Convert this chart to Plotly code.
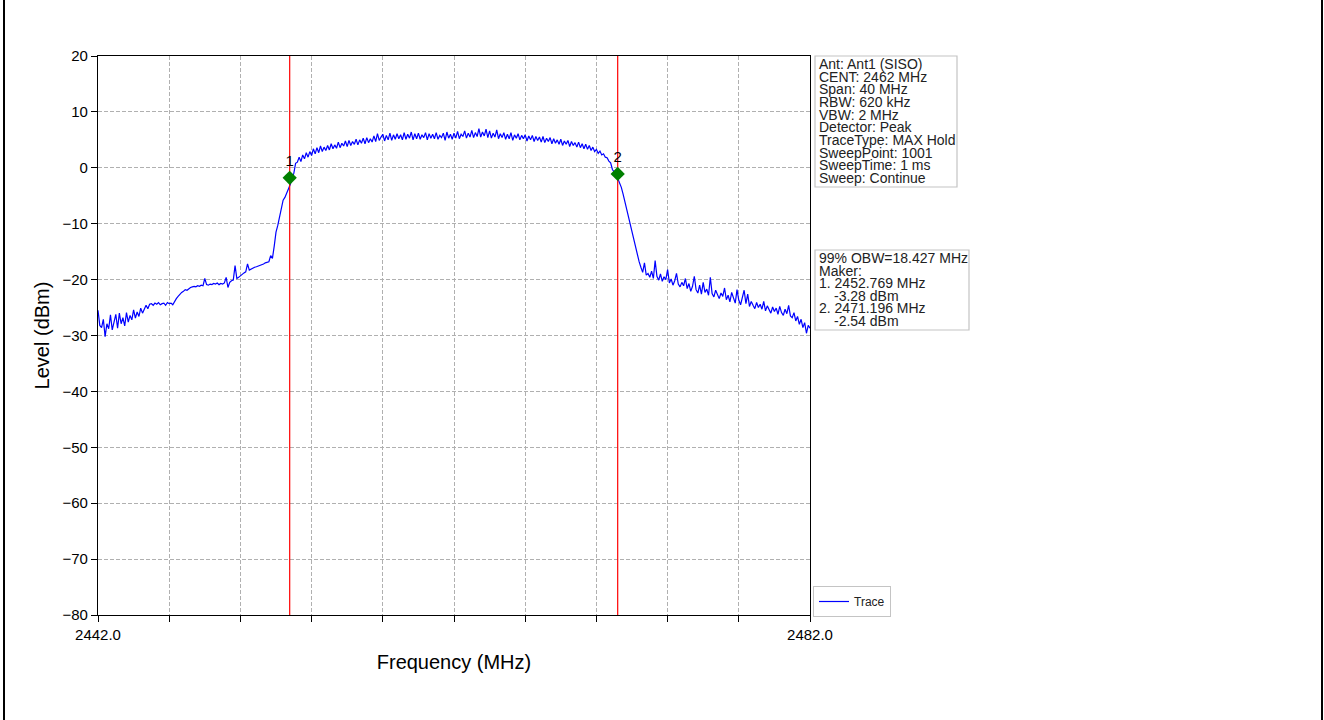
import plotly.graph_objects as go

# Spectrum trace, 0.1 MHz steps from 2442.0 to 2482.0 MHz
FREQ_START = 2442.0
FREQ_STEP = 0.1
level_dbm = [
    -25.5, -28.2, -28.6, -27.1, -30.2, -27.9, -28.8, -26.3, -29.0, -27.4,  # 2442
    -26.2, -28.7, -26.0, -27.9, -26.8, -28.3, -25.9, -27.6, -26.4, -27.2,  # 2443
    -25.4, -26.9, -25.8, -26.6, -25.1, -26.0, -25.3, -24.6, -25.2, -24.4,  # 2444
    -24.3, -24.6, -24.2, -24.4, -24.1, -24.5, -24.3, -24.2, -24.6, -24.1,  # 2445
    -24.3, -24.2, -24.5, -23.9, -23.4, -23.0, -22.6, -22.3, -22.1, -21.8,  # 2446
    -21.9, -21.6, -21.4, -21.3, -21.2, -21.3, -21.1, -21.2, -21.0, -21.1,  # 2447
    -19.8, -20.9, -21.0, -20.8, -20.9, -20.7, -20.8, -20.6, -20.9, -20.7,  # 2448
    -20.8, -20.6, -19.6, -21.4, -20.5, -20.2, -20.1, -17.5, -19.8, -19.6,  # 2449
    -19.3, -19.0, -18.8, -18.6, -17.2, -18.3, -18.1, -18.0, -17.8, -17.7,  # 2450
    -17.6, -17.5, -17.3, -17.2, -17.0, -16.9, -16.8, -15.7, -16.2, -14.0,  # 2451
    -11.5, -10.3, -8.8, -7.0, -5.8, -5.3, -4.6, -3.6, -3.0, -1.8,  # 2452
    -1.0, 0.8, 1.0, 1.9, 1.1, 2.3, 1.6, 2.7, 1.9, 2.9,  # 2453
    2.2, 3.4, 2.5, 3.6, 2.7, 3.9, 2.9, 3.7, 3.1, 4.0,  # 2454
    3.2, 4.3, 3.4, 4.1, 3.5, 4.6, 3.6, 4.4, 3.9, 4.8,  # 2455
    3.8, 4.9, 4.0, 4.7, 4.2, 5.1, 4.1, 5.0, 4.4, 5.3,  # 2456
    4.3, 5.4, 4.5, 5.2, 4.6, 5.7, 4.7, 6.1, 4.9, 5.5,  # 2457
    6.0, 4.8, 5.8, 5.0, 6.2, 4.9, 5.9, 5.1, 6.1, 5.2,  # 2458
    5.9, 5.0, 6.3, 5.1, 6.0, 5.3, 6.4, 5.0, 6.1, 5.2,  # 2459
    6.2, 5.1, 5.9, 5.4, 6.3, 5.0, 6.1, 5.3, 6.0, 5.2,  # 2460
    6.3, 5.1, 5.8, 5.4, 6.2, 4.9, 6.4, 5.3, 6.0, 5.1,  # 2461
    6.2, 5.3, 6.5, 5.2, 6.0, 5.6, 6.6, 5.3, 6.2, 5.5,  # 2462
    6.7, 5.4, 6.3, 5.6, 7.0, 5.5, 6.4, 5.7, 6.9, 5.4,  # 2463
    6.6, 5.3, 6.2, 5.5, 6.8, 5.2, 6.1, 5.4, 6.3, 5.1,  # 2464
    6.0, 5.2, 6.3, 4.9, 5.9, 5.3, 6.1, 5.0, 5.8, 5.2,  # 2465
    5.9, 4.8, 5.7, 5.0, 5.8, 4.7, 5.6, 4.9, 5.5, 4.6,  # 2466
    5.6, 4.5, 5.3, 4.7, 5.4, 4.3, 5.2, 4.4, 5.0, 4.2,  # 2467
    5.1, 4.0, 4.8, 4.2, 4.9, 3.8, 4.7, 4.0, 4.5, 3.7,  # 2468
    4.6, 3.6, 4.3, 3.4, 4.2, 3.3, 4.0, 3.1, 3.7, 2.9,  # 2469
    3.3, 2.6, 3.0, 2.3, 2.5, 1.9, 1.8, 1.2, 0.9, -0.3,  # 2470
    -0.7, -1.2, -1.9, -2.6, -3.5, -4.7, -6.1, -7.6, -8.7, -9.8,  # 2471
    -11.3, -12.6, -14.1, -15.4, -16.8, -17.8, -18.7, -17.0, -19.2, -18.9,  # 2472
    -19.6, -18.5, -19.8, -16.6, -19.4, -20.1, -19.0, -20.3, -19.5, -20.0,  # 2473
    -18.2, -20.6, -19.9, -21.0, -20.2, -18.9, -20.8, -21.3, -20.5, -21.1,  # 2474
    -19.8, -21.6, -20.7, -22.1, -21.2, -19.4, -21.8, -22.4, -21.0, -22.6,  # 2475
    -20.5, -22.3, -21.7, -22.8, -19.6, -22.5, -23.1, -21.9, -22.7, -23.4,  # 2476
    -22.4, -23.0, -21.5, -23.6, -22.8, -24.0, -22.3, -23.5, -24.2, -21.8,  # 2477
    -23.7, -24.5, -23.1, -21.9, -24.3, -22.6, -24.8, -23.9, -24.6, -25.2,  # 2478
    -24.1, -25.0, -24.4, -25.3, -23.9, -25.6, -24.7, -25.4, -26.0, -24.9,  # 2479
    -25.7, -25.1, -26.2, -24.8, -25.9, -26.4, -25.3, -26.1, -24.6, -26.5,  # 2480
    -26.8, -25.9, -27.4, -26.6, -28.0, -27.1, -28.6, -27.7, -29.6, -28.2,  # 2481
    -28.7,  # 2482
]
freq_mhz = [round(FREQ_START + i * FREQ_STEP, 1) for i in range(len(level_dbm))]

# OBW markers
marker_freq = [2452.769, 2471.196]
marker_level = [-1.8, -1.1]
marker_names = ['1', '2']

# Axis ticks
x_tick_values = [2442, 2446, 2450, 2454, 2458, 2462, 2466, 2470, 2474, 2478, 2482]
x_tick_labels = ['2442.0', '', '', '', '', '', '', '', '', '', '2482.0']
y_tick_values = [20, 10, 0, -10, -20, -30, -40, -50, -60, -70, -80]

settings_lines = [
    'Ant: Ant1 (SISO)', 'CENT: 2462 MHz', 'Span: 40 MHz', 'RBW: 620 kHz',
    'VBW: 2 MHz', 'Detector: Peak', 'TraceType: MAX Hold', 'SweepPoint: 1001',
    'SweepTime: 1 ms', 'Sweep: Continue',
]
result_lines = [
    ('99% OBW=18.427 MHz', 0), ('Maker:', 0), ('1. 2452.769 MHz', 0),
    ('-3.28 dBm', 1), ('2. 2471.196 MHz', 0), ('-2.54 dBm', 1),
]

TRACE_BLUE = '#0000ff'
FONT = 'Liberation Sans, Arial, sans-serif'

# Plot area in pixels (1324x720 page)
PX_L, PX_R, PX_T, PX_B = 98, 810, 56, 615


def px_x(px):
    return (px - PX_L) / (PX_R - PX_L)


def px_y(py):
    return (PX_B - py) / (PX_B - PX_T)


fig = go.Figure()

fig.add_trace(go.Scatter(
    x=freq_mhz, y=level_dbm, mode='lines', name='Trace',
    line=dict(color=TRACE_BLUE, width=1.2),
))

for f in marker_freq:
    fig.add_trace(go.Scatter(
        x=[f, f], y=[-80, 20], mode='lines', showlegend=False,
        line=dict(color='#ff0000', width=1.2), hoverinfo='skip',
    ))

fig.add_trace(go.Scatter(
    x=marker_freq, y=marker_level, mode='markers+text', text=marker_names,
    textposition='top center', textfont=dict(size=15, color='black', family=FONT),
    marker=dict(symbol='diamond', size=11, color='#008000'), showlegend=False,
))

shapes = [
    dict(type='rect', xref='paper', yref='paper',
         x0=px_x(815), x1=px_x(957), y0=px_y(56), y1=px_y(187),
         line=dict(color='#c4c4c4', width=1.2), fillcolor='white', layer='below'),
    dict(type='rect', xref='paper', yref='paper',
         x0=px_x(815), x1=px_x(969), y0=px_y(250), y1=px_y(330),
         line=dict(color='#c4c4c4', width=1.2), fillcolor='white', layer='below'),
    # page frame at left and right
    dict(type='line', xref='paper', yref='paper', x0=px_x(4), x1=px_x(4),
         y0=px_y(0), y1=px_y(720), line=dict(color='black', width=2)),
    dict(type='line', xref='paper', yref='paper', x0=px_x(1322), x1=px_x(1322),
         y0=px_y(0), y1=px_y(720), line=dict(color='black', width=2)),
]

annotations = []
for k, txt in enumerate(settings_lines):
    annotations.append(dict(
        x=px_x(817), y=px_y(64 + 12.67 * k), xref='paper', yref='paper',
        text=txt, showarrow=False, xanchor='left', yanchor='middle',
        font=dict(size=14, color='#222222', family=FONT),
    ))
for k, (txt, indent) in enumerate(result_lines):
    annotations.append(dict(
        x=px_x(832 if indent else 817), y=px_y(258 + 12.5 * k), xref='paper', yref='paper',
        text=txt, showarrow=False, xanchor='left', yanchor='middle',
        font=dict(size=14, color='#222222', family=FONT),
    ))

fig.update_layout(
    width=1324, height=720,
    margin=dict(l=PX_L, r=1324 - PX_R, t=PX_T, b=720 - PX_B),
    paper_bgcolor='white', plot_bgcolor='white',
    font=dict(family=FONT, color='black'),
    shapes=shapes, annotations=annotations,
    showlegend=True,
    legend=dict(
        x=px_x(813), y=px_y(617), xanchor='left', yanchor='bottom',
        bgcolor='white', bordercolor='#c4c4c4', borderwidth=1,
        font=dict(size=12, family=FONT, color='#222222'),
    ),
)

fig.update_xaxes(
    range=[2442, 2482], tickmode='array', tickvals=x_tick_values, ticktext=x_tick_labels,
    showgrid=True, gridcolor='#b0b0b0', griddash='4px,2px', gridwidth=0.8,
    showline=True, linecolor='black', linewidth=1.2, mirror=True,
    ticks='outside', ticklen=6, tickcolor='black', tickfont=dict(size=15),
    title=dict(text='Frequency (MHz)', font=dict(size=20), standoff=12),
    zeroline=False,
)
fig.update_yaxes(
    range=[-80, 20], tickmode='array', tickvals=y_tick_values,
    showgrid=True, gridcolor='#b0b0b0', griddash='4px,2px', gridwidth=0.8,
    showline=True, linecolor='black', linewidth=1.2, mirror=True,
    ticks='outside', ticklen=6, tickcolor='black', tickfont=dict(size=15),
    title=dict(text='Level (dBm)', font=dict(size=20), standoff=7),
    zeroline=False,
)

# drop the default 8px page margin so the figure sits at the window origin
fig.write_html('out.html', config={'displayModeBar': False},
               post_script="document.body.style.margin='0px';")
